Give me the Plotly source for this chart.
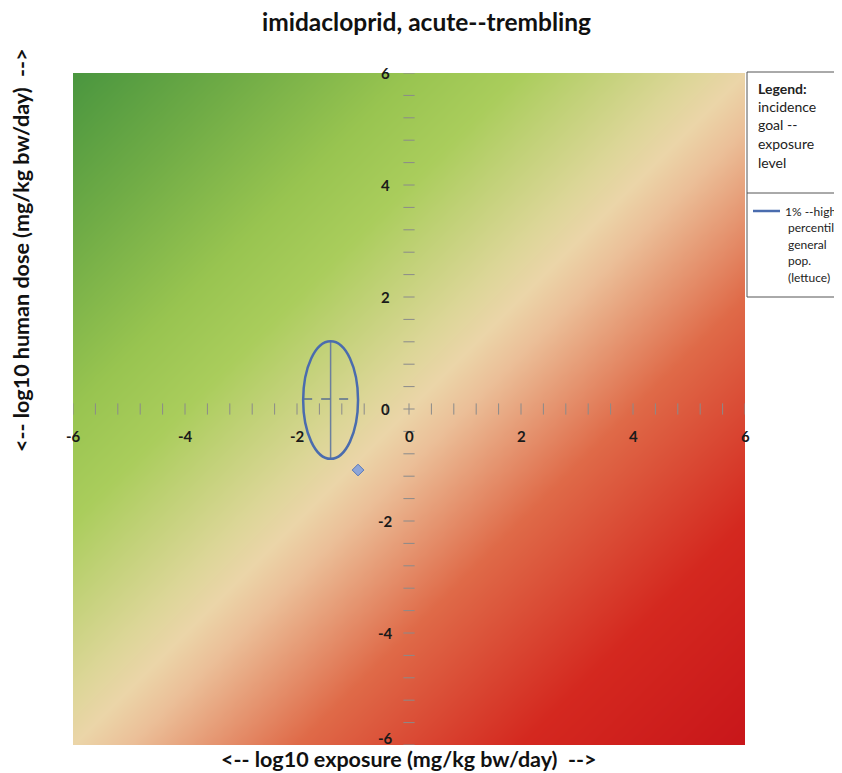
import numpy as np
import plotly.graph_objects as go

# ---- data ----
title_text = "imidacloprid, acute--trembling"
x_title = "<-- log10 exposure (mg/kg bw/day)  -->"
y_title = "<-- log10 human dose (mg/kg bw/day)  -->"

axis_min, axis_max = -6, 6
major_ticks = [-6, -4, -2, 0, 2, 4, 6]
minor_step = 0.4

# background gradient: colour by (dose - exposure), i.e. margin of safety
grad_levels = [-12, -8, -4, -1, 0, 1, 4, 6, 9, 12]
grad_colors = ["#c8161a", "#d4281f", "#df6a48", "#ebbf98", "#ebd5a8",
               "#dcd697", "#aacd5c", "#98c450", "#70ac46", "#4a963f"]

# ellipse (exposure-dose uncertainty) for "1% --high percentile general pop. (lettuce)"
ell_cx = [-1.4]
ell_cy = [0.16]
ell_rx = [0.49]
ell_ry = [1.05]
dash_y = [0.18]
point_x = [-0.91]
point_y = [-1.09]

legend_head = ["Legend:", "incidence", "goal --", "exposure", "level"]
legend_item = ["1% --high", "percentile", "general", "pop.", "(lettuce)"]

# ---- figure ----
OFF = 8  # page body margin
W, H = 842 - OFF, 773 - OFF
L, T = 73 - OFF, 73 - OFF
PW, PH = 672, 672
R, B = W - L - PW, H - T - PH

def px_x(p):
    return (p - OFF - L) / PW

def px_y(p):
    return (H - B - (p - OFF)) / PH

fig = go.Figure()

gx = np.linspace(axis_min, axis_max, 121)
gy = np.linspace(axis_min, axis_max, 121)
Z = gy[:, None] - gx[None, :]
lo, hi = grad_levels[0], grad_levels[-1]
cscale = [[(v - lo) / (hi - lo), c] for v, c in zip(grad_levels, grad_colors)]
fig.add_trace(go.Heatmap(x=gx, y=gy, z=Z, colorscale=cscale, zmin=lo, zmax=hi,
                         zsmooth="best", showscale=False, hoverinfo="skip"))

# axis tick marks crossing the zero lines
tick_col = "#8a8a8a"
minor = np.round(np.arange(axis_min, axis_max + 1e-9, minor_step), 6)
fig.add_trace(go.Scatter(x=minor, y=np.zeros_like(minor), mode="markers",
                         marker=dict(symbol="line-ns-open", size=8, color=tick_col,
                                     line=dict(color=tick_col, width=1)),
                         hoverinfo="skip", showlegend=False))
fig.add_trace(go.Scatter(x=np.zeros_like(minor), y=minor, mode="markers",
                         marker=dict(symbol="line-ew-open", size=8, color=tick_col,
                                     line=dict(color=tick_col, width=1)),
                         hoverinfo="skip", showlegend=False))

# ellipse
for cx, cy, rx, ry, dy in zip(ell_cx, ell_cy, ell_rx, ell_ry, dash_y):
    fig.add_shape(type="circle", xref="x", yref="y",
                  x0=cx - rx, x1=cx + rx, y0=cy - ry, y1=cy + ry,
                  line=dict(color="#4a6cae", width=2.5))
    fig.add_trace(go.Scatter(x=[cx, cx], y=[cy - ry, cy + ry], mode="lines",
                             line=dict(color="#6b7f9e", width=1.5),
                             hoverinfo="skip", showlegend=False))
    fig.add_trace(go.Scatter(x=[cx - rx, cx + rx], y=[dy, dy], mode="lines",
                             line=dict(color="#5a6f90", width=1.5, dash="dash"),
                             hoverinfo="skip", showlegend=False))

fig.add_trace(go.Scatter(x=point_x, y=point_y, mode="markers",
                         marker=dict(symbol="diamond", size=9, color="#8ea6d8",
                                     line=dict(color="#5a78b8", width=1)),
                         hoverinfo="skip", showlegend=False))

axis_common = dict(range=[axis_min, axis_max], showgrid=False, showticklabels=False,
                   ticks="", zeroline=True, zerolinecolor=tick_col, zerolinewidth=1.5,
                   showline=False)
fig.update_layout(
    width=W, height=H,
    margin=dict(l=L, r=R, t=T, b=B, pad=0),
    paper_bgcolor="white", plot_bgcolor="white",
    showlegend=False,
    xaxis=axis_common,
    yaxis=axis_common,
    font=dict(family="Lato", color="#1a1a1a"),
)

annotations = []
tick_font = dict(family="Lato", size=15, color="#1a1a1a")
for v in major_ticks:
    annotations.append(dict(x=v, y=0, xref="x", yref="y", text="<b>%d</b>" % v,
                            showarrow=False, yshift=-27, xanchor="center",
                            yanchor="middle", font=tick_font))
    annotations.append(dict(x=0, y=v, xref="x", yref="y", text="<b>%d</b>" % v,
                            showarrow=False, xshift=-24,
                            yshift=7 if v == axis_min else 0,
                            xanchor="center", yanchor="middle", font=tick_font))

def text_at(px, py, text, size, angle=0, xanchor="center", bold=False, color="#111"):
    annotations.append(dict(x=px_x(px), y=px_y(py), xref="paper", yref="paper",
                            text=("<b>%s</b>" % text) if bold else text,
                            showarrow=False, textangle=angle,
                            xanchor=xanchor, yanchor="middle",
                            font=dict(family="Lato", size=size, color=color)))

text_at(426, 22, title_text, 24.5, bold=True)
text_at(408, 759, x_title, 21.5, bold=True)
text_at(21, 250, y_title, 21.5, angle=-90, bold=True)

# legend box
fig.add_shape(type="rect", xref="paper", yref="paper",
              x0=px_x(747), x1=px_x(870), y0=px_y(297), y1=px_y(72),
              fillcolor="white", line=dict(color="#555", width=1), layer="above")
fig.add_shape(type="line", xref="paper", yref="paper",
              x0=px_x(747), x1=px_x(870), y0=px_y(193), y1=px_y(193),
              line=dict(color="#555", width=1), layer="above")
fig.add_shape(type="line", xref="paper", yref="paper",
              x0=px_x(753), x1=px_x(780), y0=px_y(211), y1=px_y(211),
              line=dict(color="#4a6cae", width=2.5), layer="above")

for i, t in enumerate(legend_head):
    text_at(756, 88 + 18.5 * i, t, 14, xanchor="left", bold=(i == 0), color="#222")
for i, t in enumerate(legend_item):
    text_at(783 if i == 0 else 786, 211 + 16.5 * i, t, 12, xanchor="left", color="#222")

fig.update_layout(annotations=annotations)

fig.write_html("out.html")
